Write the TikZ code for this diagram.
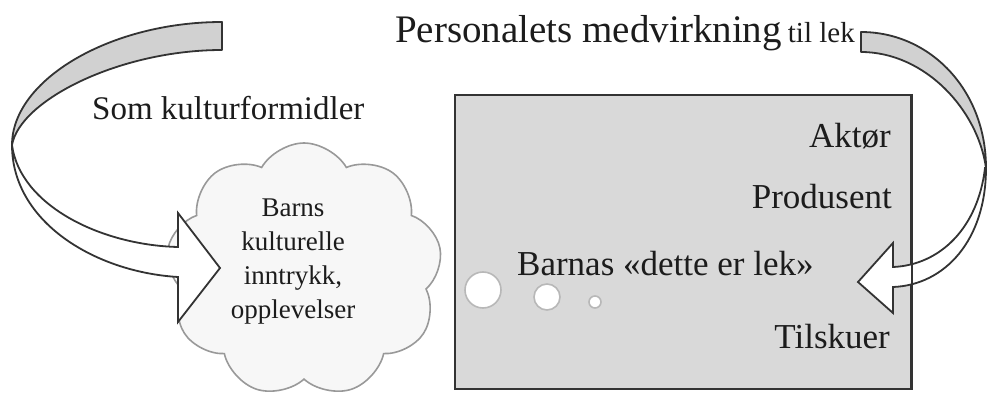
\documentclass[tikz,border=0pt]{standalone}
\usepackage{fontspec}
\setmainfont{Liberation Serif}
\usetikzlibrary{shapes.symbols}
\definecolor{ink}{HTML}{1C1C1C}
\tikzset{%
  playbox/.style={draw=black!80,line width=2pt,fill=black!15,inner sep=0},
  bubble/.style={draw=black!28,line width=1.6pt,fill=white,shape=circle,inner sep=0},
  puff/.style={draw=black!40,line width=1.6pt,fill=black!3,shape=cloud,cloud puffs=9,cloud puff arc=120,cloud ignores aspect,inner sep=0},
  bandtop/.style={draw=black!80,line width=1.8pt,fill=black!18,line join=round},
  bandlow/.style={draw=black!80,line width=1.8pt,fill=white,line join=miter},
  role/.style={anchor=base east,font=\fontsize{35}{40}\selectfont,text=ink,inner sep=0}
}

\begin{document}
\begin{tikzpicture}[x=1pt,y=-1pt]
  \useasboundingbox (0,0) rectangle (989,396);
  \path
    (304,270) node (cloud)[puff,minimum width=276pt,minimum height=254pt]{}
    (293,262) node (ctext)[align=center,font=\fontsize{27}{34}\selectfont,text=ink]{Barns\\kulturelle\\inntrykk,\\opplevelser}
    (683,242) node (box)[playbox,minimum width=456pt,minimum height=294pt]{};
  \path
    (483,290) node (b1)[bubble,minimum size=36pt]{}
    (547,297) node (b2)[bubble,minimum size=26pt]{}
    (595,302) node (b3)[bubble,minimum size=12pt]{};
  \path
    (395,43) node (title)[anchor=base west,inner sep=0,text=ink]{{\fontsize{39}{44}\selectfont Personalets medvirkning}\hspace{6pt}{\fontsize{29}{32}\selectfont til lek}}
    (92,120) node (som)[anchor=base west,inner sep=0,text=ink,font=\fontsize{33}{38}\selectfont]{Som kulturformidler}
    (891,147) node (akt)[role]{Aktør}
    (892,208) node (prod)[role]{Produsent}
    (890,348) node (tilsk)[role]{Tilskuer}
    (517,275) node (barnas)[role,anchor=base west]{Barnas «dette er lek»};
  \draw[bandlow] (12,145) .. controls (20,205) and (100,245) .. (178,247) -- (178,213) -- (220,268)
    -- (178,322) -- (178,277) .. controls (95,272) and (12,222) .. (12,145) -- cycle;
  \draw[bandtop] (222,22) .. controls (110,22) and (12,80) .. (12,145)
    .. controls (20,100) and (120,50) .. (222,50) -- cycle;
  \draw[bandlow] (985,168) .. controls (978,228) and (940,265) .. (893,267) -- (893,243) -- (858,282)
    -- (893,313) -- (893,287) .. controls (945,285) and (986,240) .. (986,168) -- cycle;
  \draw[bandtop] (861,32) .. controls (930,32) and (986,90) .. (986,168)
    .. controls (978,110) and (925,52) .. (861,52) -- cycle;
  \draw[black!80,line width=2pt] (box.north east) -- (box.south east);
\end{tikzpicture}
\end{document}
